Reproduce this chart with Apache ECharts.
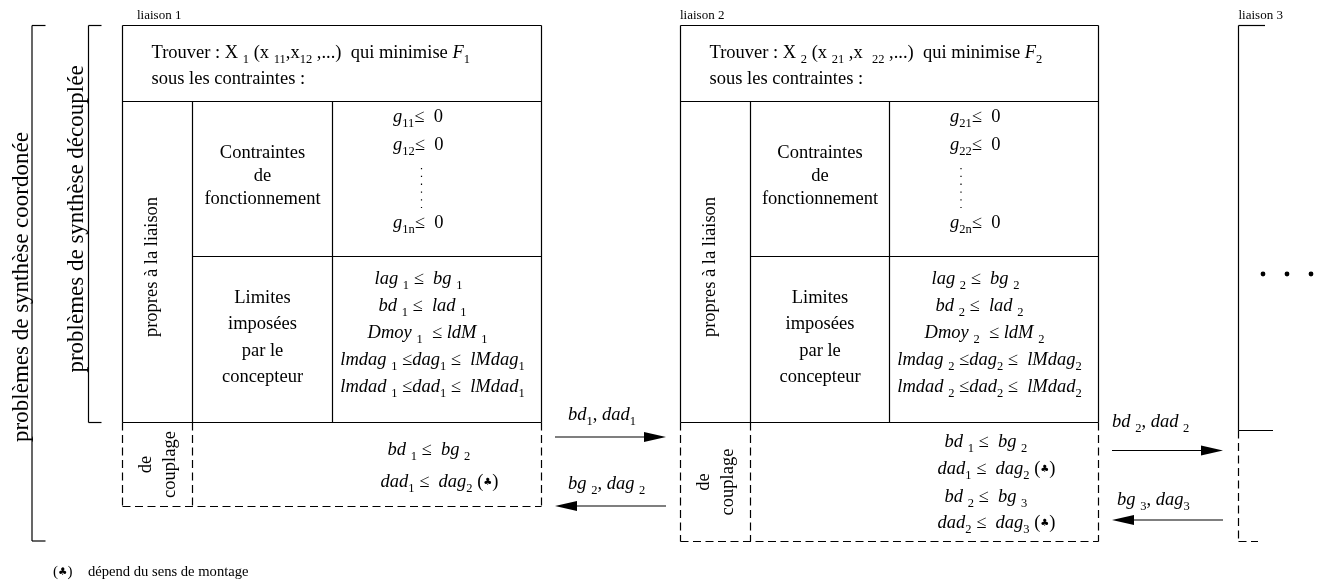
<!DOCTYPE html>
<html><head><meta charset="utf-8">
<script src="https://cdn.jsdelivr.net/npm/echarts@6/dist/echarts.min.js"></script>
<style>html,body{margin:0;padding:0;background:#fff}#c{width:1325px;height:581px}</style>
</head><body><div id="c"></div>
<script>
// ================= CONTENT (text of the diagram) =================
const liaisonLabels = ['liaison 1', 'liaison 2', 'liaison 3'];
const sideTitles = ['problèmes de synthèse coordonée', 'problèmes de synthèse découplée'];
const ownTitle = 'propres à la liaison';
const couplingTitle = ['de', 'couplage'];
const operatingTitle = ['Contraintes', 'de', 'fonctionnement'];
const designerTitle = ['Limites', 'imposées', 'par le', 'concepteur'];
const subtitle = 'sous les contraintes :';
const footnoteMark = [['n','('],['c','♣'],['n',')']];
const footnoteText = 'dépend du sens de montage';

// tokens: n = upright, i = italic, s = subscript, c = club sign
const headers = [
  [['n','Trouver : X '],['s','1'],['n',' (x '],['s','11'],['n',',x'],['s','12'],['n',' ,...)  qui minimise '],['i','F'],['s','1']],
  [['n','Trouver : X '],['s','2'],['n',' (x '],['s','21'],['n',' ,x  '],['s','22'],['n',' ,...)  qui minimise '],['i','F'],['s','2']]
];
const operatingConstraints = [
  [ [['i','g'],['s','11'],['n','≤  0']], [['i','g'],['s','12'],['n','≤  0']], [['i','g'],['s','1n'],['n','≤  0']] ],
  [ [['i','g'],['s','21'],['n','≤  0']], [['i','g'],['s','22'],['n','≤  0']], [['i','g'],['s','2n'],['n','≤  0']] ]
];
function designerLimits(k) {
  return [
    [['i','lag '],['s',k],['n',' ≤  '],['i','bg '],['s',k]],
    [['i','bd '],['s',k],['n',' ≤  '],['i','lad '],['s',k]],
    [['i','Dmoy '],['s',k],['n','  ≤ '],['i','ldM '],['s',k]],
    [['i','lmdag '],['s',k],['n',' ≤'],['i','dag'],['s',k],['n',' ≤  '],['i','lMdag'],['s',k]],
    [['i','lmdad '],['s',k],['n',' ≤'],['i','dad'],['s',k],['n',' ≤  '],['i','lMdad'],['s',k]]
  ];
}
const designerConstraints = [designerLimits('1'), designerLimits('2')];
const couplingConstraints = [
  [ [['i','bd '],['s','1'],['n',' ≤  '],['i','bg '],['s','2']],
    [['i','dad'],['s','1'],['n',' ≤  '],['i','dag'],['s','2'],['n',' ('],['c','♣'],['n',')']] ],
  [ [['i','bd '],['s','1'],['n',' ≤  '],['i','bg '],['s','2']],
    [['i','dad'],['s','1'],['n',' ≤  '],['i','dag'],['s','2'],['n',' ('],['c','♣'],['n',')']],
    [['i','bd '],['s','2'],['n',' ≤  '],['i','bg '],['s','3']],
    [['i','dad'],['s','2'],['n',' ≤  '],['i','dag'],['s','3'],['n',' ('],['c','♣'],['n',')']] ]
];
const arrowLabels = [
  [ [['i','bd'],['s','1'],['n',', '],['i','dad'],['s','1']],
    [['i','bg '],['s','2'],['n',', '],['i','dag '],['s','2']] ],
  [ [['i','bd '],['s','2'],['n',', '],['i','dad '],['s','2']],
    [['i','bg '],['s','3'],['n',', '],['i','dag'],['s','3']] ]
];

// ================= LAYOUT (positions / sizes / styles) =================
const FONT = '"Liberation Serif","Times New Roman","DejaVu Serif",serif';
const INK = '#000';
const LW = 1.2;
const DASH = [8, 4.5];
const Y = { top: 25.5, head: 101.5, row: 256.5, bot: 422.5 };
const boxes = [
  { x0: 122.5, c1: 192.5, c2: 332.5, x1: 541.5, cb: 506.5, label: 137, dotsX: 421.5,
    coupY: [450, 482], coupX: [55, 48] },
  { x0: 680.5, c1: 750.5, c2: 889.5, x1: 1098.5, cb: 541.5, label: 680, dotsX: 961,
    coupY: [442, 469, 497, 523], coupX: [55, 48, 55, 48] }
];
const limitRowY = [279, 306, 333, 360, 387];
const limitRowCx = [86, 90, 95, 100, 100];
const arrows = [
  { xa: 555, xb: 666, yr: 437, yl: 506, lx: [568, 568], ly: [415, 484] },
  { xa: 1112, xb: 1223, yr: 450.5, yl: 520, lx: [1112, 1117], ly: [422, 500] }
];
const L3 = { x: 1238.5, topTick: 1265, mid: 430.5, midTick: 1273, bot: 541.5, botTick: 1258 };

const richStyles = {
  n: { fontFamily: FONT, fontSize: 18.5, lineHeight: 26, verticalAlign: 'middle', fill: INK, color: INK },
  i: { fontFamily: FONT, fontSize: 18.5, fontStyle: 'italic', lineHeight: 26, verticalAlign: 'middle', fill: INK, color: INK },
  s: { fontFamily: FONT, fontSize: 12.5, lineHeight: 14, verticalAlign: 'bottom', fill: INK, color: INK },
  c: { fontFamily: '"DejaVu Sans",sans-serif', fontSize: 10, lineHeight: 26, verticalAlign: 'middle', fill: INK, color: INK }
};
const richSmall = {
  n: { fontFamily: FONT, fontSize: 15, lineHeight: 18, verticalAlign: 'middle', fill: INK, color: INK },
  c: { fontFamily: '"DejaVu Sans",sans-serif', fontSize: 10.5, lineHeight: 18, verticalAlign: 'middle', fill: INK, color: INK }
};
function richStr(tokens) { return tokens.map(t => '{' + t[0] + '|' + t[1] + '}').join(''); }

const els = [];
function line(x1, y1, x2, y2, dashed) {
  els.push({ type: 'line', shape: { x1, y1, x2, y2 }, silent: true,
    style: { stroke: INK, lineWidth: LW, lineDash: dashed ? DASH : null } });
}
function text(str, x, y, opt) {
  opt = opt || {};
  els.push({ type: 'text', x, y, rotation: opt.rot || 0, silent: true,
    style: { text: str, fontFamily: FONT, fontSize: opt.size || 18.5, fontStyle: opt.style || 'normal',
      fill: INK, align: opt.align || 'center', textAlign: opt.align || 'center',
      verticalAlign: 'middle', textVerticalAlign: 'middle' } });
}
function math(tokens, x, y, align, rich) {
  els.push({ type: 'text', x, y, silent: true,
    style: { text: richStr(tokens), rich: rich || richStyles, fontFamily: FONT, fontSize: 18.5, fill: INK,
      align: align || 'center', textAlign: align || 'center', verticalAlign: 'middle', textVerticalAlign: 'middle' } });
}
function arrowHead(xTip, y, dir) {
  const len = 22, half = 5;
  els.push({ type: 'polygon', silent: true,
    shape: { points: [[xTip, y], [xTip - dir * len, y - half], [xTip - dir * len, y + half]] },
    style: { fill: INK } });
}

// outer brackets
line(32, Y.top, 32, 541, false); line(32, Y.top, 45.5, Y.top); line(32, 541, 45.5, 541);
line(88.5, Y.top, 88.5, Y.bot); line(88.5, Y.top, 101.5, Y.top); line(88.5, Y.bot, 101.5, Y.bot);
text(sideTitles[0], 22, 287, { rot: Math.PI / 2, size: 23 });
text(sideTitles[1], 77, 219, { rot: Math.PI / 2, size: 23 });

boxes.forEach((b, k) => {
  // solid frame
  line(b.x0, Y.top, b.x1, Y.top); line(b.x0, Y.top, b.x0, Y.bot); line(b.x1, Y.top, b.x1, Y.bot);
  line(b.x0, Y.bot, b.x1, Y.bot); line(b.x0, Y.head, b.x1, Y.head);
  line(b.c1, Y.head, b.c1, Y.bot); line(b.c2, Y.head, b.c2, Y.bot); line(b.c1, Y.row, b.x1, Y.row);
  // coupling (dashed)
  line(b.x0, Y.bot, b.x0, b.cb, true); line(b.x1, Y.bot, b.x1, b.cb, true);
  line(b.c1, Y.bot, b.c1, b.cb, true); line(b.x0, b.cb, b.x1, b.cb, true);
  // labels
  text(liaisonLabels[k], b.label, 16, { size: 13, align: 'left' });
  math(headers[k], b.x0 + 29, 53, 'left');
  text(subtitle, b.x0 + 29, 79, { align: 'left' });
  text(ownTitle, b.x0 + 30, 267, { rot: Math.PI / 2 });
  const cm = (b.c1 + b.c2) / 2;
  operatingTitle.forEach((t, i) => text(t, cm, [153, 176, 199][i]));
  designerTitle.forEach((t, i) => text(t, cm, [298, 324, 351, 377][i]));
  const gx = b.c2 + 60.5;
  operatingConstraints[k].forEach((t, i) => math(t, gx, [117, 145, 223][i], 'left'));
  line(b.dotsX, 168, b.dotsX, 208, false);
  els[els.length - 1].style.lineDash = [1.3, 6.5];
  designerConstraints[k].forEach((t, i) => math(t, b.c2 + limitRowCx[i], limitRowY[i]));
  const yc = (Y.bot + b.cb) / 2;
  text(couplingTitle[0], b.x0 + 24, yc, { rot: Math.PI / 2 });
  text(couplingTitle[1], b.x0 + 47.5, yc, { rot: Math.PI / 2 });
  couplingConstraints[k].forEach((t, i) => math(t, b.c2 + b.coupX[i], b.coupY[i], 'left'));
});

arrows.forEach((a, k) => {
  line(a.xa, a.yr, a.xb - 10, a.yr); arrowHead(a.xb, a.yr, 1);
  line(a.xa + 10, a.yl, a.xb, a.yl); arrowHead(a.xa, a.yl, -1);
  math(arrowLabels[k][0], a.lx[0], a.ly[0], 'left');
  math(arrowLabels[k][1], a.lx[1], a.ly[1], 'left');
});

// liaison 3 (partial)
text(liaisonLabels[2], L3.x, 16, { size: 13, align: 'left' });
line(L3.x, Y.top, L3.x, L3.mid); line(L3.x, Y.top, L3.topTick, Y.top); line(L3.x, L3.mid, L3.midTick, L3.mid);
line(L3.x, L3.mid, L3.x, L3.bot, true); line(L3.x, L3.bot, L3.botTick, L3.bot, true);
[1263, 1287, 1311].forEach(cx => els.push({ type: 'circle', silent: true, shape: { cx, cy: 274, r: 2.4 }, style: { fill: INK } }));

// footnote
math(footnoteMark, 53, 572, 'left', richSmall);
text(footnoteText, 88, 572, { size: 14.6, align: 'left' });

const chart = echarts.init(document.getElementById('c'), null, { renderer: 'canvas' });
chart.setOption({ backgroundColor: '#fff', animation: false, graphic: { elements: els } });
</script></body></html>
